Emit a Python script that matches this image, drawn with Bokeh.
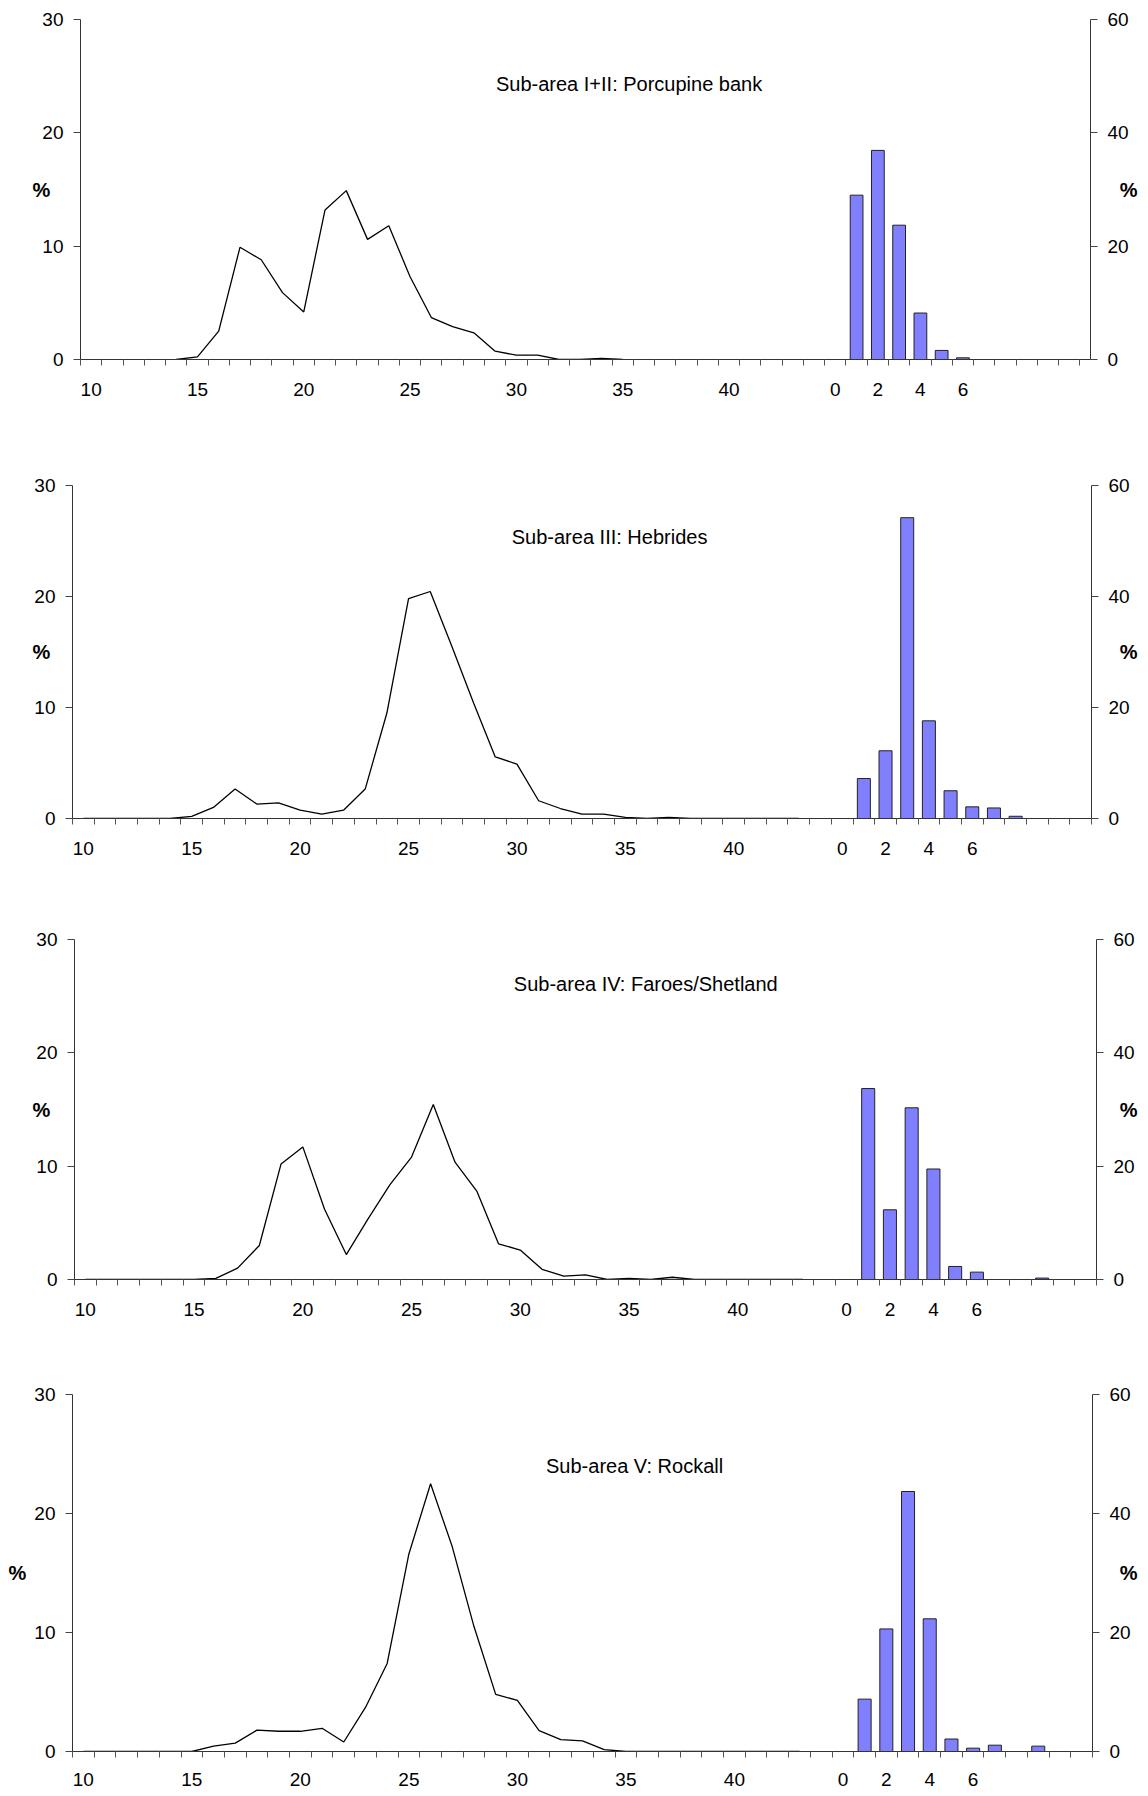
from bokeh.plotting import figure
from bokeh.models import LinearAxis, Range1d, FixedTicker, Label
from bokeh.layouts import column
from bokeh.embed import file_html
from bokeh.resources import INLINE

FONT = "Liberation Sans"

# length frequency (% per cm class, left axis)
porcupine_len = list(range(14, 36))
porcupine_pct = [0, 0.23, 2.5, 9.9, 8.8, 5.9, 4.2, 13.2, 14.9, 10.6, 11.8,
                 7.3, 3.7, 2.9, 2.35, 0.73, 0.38, 0.38, 0, 0, 0.1, 0]

hebrides_len = list(range(10, 44))
hebrides_pct = [0, 0, 0, 0, 0, 0.2, 1.0, 2.65, 1.3, 1.4, 0.75, 0.4, 0.75,
                2.65, 9.5, 19.8, 20.45, 15.5, 10.4, 5.55, 4.9, 1.6, 0.9, 0.4,
                0.4, 0.1, 0, 0.1, 0, 0, 0, 0, 0, 0]

faroes_len = list(range(10, 44))
faroes_pct = [0, 0, 0, 0, 0, 0, 0.1, 1.0, 3.0, 10.2, 11.7, 6.2, 2.2, 5.35,
              8.35, 10.8, 15.45, 10.35, 7.8, 3.15, 2.6, 0.9, 0.3, 0.4, 0,
              0.1, 0, 0.2, 0, 0, 0, 0, 0, 0]

rockall_len = list(range(10, 44))
rockall_pct = [0, 0, 0, 0, 0, 0, 0.45, 0.7, 1.8, 1.7, 1.7, 1.95, 0.8, 3.7,
               7.4, 16.6, 22.5, 17.2, 10.5, 4.8, 4.3, 1.75, 1.0, 0.9, 0.15,
               0, 0, 0, 0, 0, 0, 0, 0, 0]

# age composition (% per age, right axis)
porcupine_ages = [1, 2, 3, 4, 5, 6]
porcupine_age_pct = [29.0, 36.9, 23.7, 8.2, 1.6, 0.3]

hebrides_ages = [1, 2, 3, 4, 5, 6, 7, 8]
hebrides_age_pct = [7.2, 12.2, 54.2, 17.6, 5.0, 2.1, 1.9, 0.4]

faroes_ages = [1, 2, 3, 4, 5, 6, 7, 8, 9]
faroes_age_pct = [33.7, 12.3, 30.3, 19.5, 2.3, 1.3, 0, 0, 0.25]

rockall_ages = [1, 2, 3, 4, 5, 6, 7, 8, 9]
rockall_age_pct = [8.8, 20.6, 43.7, 22.3, 2.1, 0.56, 1.06, 0, 0.9]

titles = ["Sub-area I+II: Porcupine bank",
          "Sub-area  III: Hebrides",
          "Sub-area  IV: Faroes/Shetland",
          "Sub-area V: Rockall"]

length_ticks = [10, 15, 20, 25, 30, 35, 40]
age_ticks = [0, 2, 4, 6]

AGE_ZERO = 45  # age 0 sits in category 45 of the shared axis

# layout of each panel: figure height, borders, axis end, annotation places
panels = [
    dict(h=412, bl=80, br=46, bt=19, bb=53, x_end=57.0, std=17,
         tpos=(35.3, 24.3), lstd=-11, rstd=-12),
    dict(h=455, bl=72, br=48, bt=73, bb=49, x_end=56.5, std=17,
         tpos=(34.4, 25.4), lstd=-19, rstd=-13),
    dict(h=460, bl=74, br=43, bt=72, bb=48, x_end=56.5, std=17,
         tpos=(35.9, 26.1), lstd=-17, rstd=-18),
    dict(h=463, bl=72, br=42, bt=67, bb=39, x_end=56.5, std=15,
         tpos=(35.4, 24.0), lstd=5, rstd=-14),
]

series = [
    (porcupine_len, porcupine_pct, porcupine_ages, porcupine_age_pct),
    (hebrides_len, hebrides_pct, hebrides_ages, hebrides_age_pct),
    (faroes_len, faroes_pct, faroes_ages, faroes_age_pct),
    (rockall_len, rockall_pct, rockall_ages, rockall_age_pct),
]


def make_panel(title, lens, pct, ages, age_pct, lay):
    p = figure(width=1140, height=lay["h"],
               x_range=Range1d(9.5, lay["x_end"]), y_range=Range1d(0, 30),
               output_backend="svg", toolbar_location=None,
               min_border_left=lay["bl"], min_border_right=lay["br"],
               min_border_top=lay["bt"], min_border_bottom=lay["bb"])
    # each panel keeps its own frame, as in the original sheet
    p.frame_align = False
    p.outline_line_color = None
    p.xgrid.visible = False
    p.ygrid.visible = False
    p.extra_y_ranges = {"age": Range1d(0, 60)}

    # x axis: ticks between categories, labels on selected categories
    ticks = length_ticks + [AGE_ZERO + a for a in age_ticks]
    labels = [str(t) for t in length_ticks] + [str(a) for a in age_ticks]
    bounds = []
    b = 9.5
    while b <= lay["x_end"] + 1e-6:
        bounds.append(b)
        b += 1
    xa = p.xaxis[0]
    xa.ticker = FixedTicker(ticks=ticks, minor_ticks=bounds)
    xa.major_label_overrides = dict(zip(ticks, labels))
    xa.major_tick_out = 0
    xa.major_tick_in = 0
    xa.minor_tick_out = 6
    xa.minor_tick_in = 0
    xa.major_label_standoff = lay["std"]

    ya = p.yaxis[0]
    ya.ticker = FixedTicker(ticks=[0, 10, 20, 30], minor_ticks=[])
    ya.axis_label_standoff = lay["lstd"]

    ra = LinearAxis(y_range_name="age",
                    ticker=FixedTicker(ticks=[0, 20, 40, 60], minor_ticks=[]))
    ra.axis_label_standoff = lay["rstd"]
    p.add_layout(ra, "right")

    for ax in (xa, ya, ra):
        ax.axis_line_color = "#333333"
        ax.major_tick_line_color = "#444444"
        ax.minor_tick_line_color = "#555555"
        ax.major_label_text_font = FONT
        ax.major_label_text_font_size = "19px"
        ax.major_label_text_color = "#000000"
    for ax in (ya, ra):
        ax.major_tick_out = 7
        ax.major_tick_in = 0
        ax.minor_tick_out = 0
        ax.minor_tick_in = 0
        ax.major_label_standoff = 10
        ax.axis_label = "%"
        ax.axis_label_orientation = "horizontal"
        ax.axis_label_text_font = FONT
        ax.axis_label_text_font_size = "20px"
        ax.axis_label_text_font_style = "bold"
        ax.axis_label_text_color = "#000000"

    # age bars on the right-hand scale
    bx = [AGE_ZERO + a for a, v in zip(ages, age_pct) if v > 0]
    bt = [v for v in age_pct if v > 0]
    p.vbar(x=bx, top=bt, bottom=0, width=0.6, y_range_name="age",
           fill_color="#8080FF", line_color="#222222", line_width=1)

    # length distribution line on the left-hand scale
    p.line(lens, pct, line_color="#000000", line_width=1.3)

    tx, ty = lay["tpos"]
    p.add_layout(Label(x=tx, y=ty, text=title, text_font=FONT,
                       text_font_size="20px", text_align="center",
                       text_baseline="middle", text_color="#000000"))
    return p


figs = [make_panel(t, *s, lay) for t, s, lay in zip(titles, series, panels)]
p = column(*figs)

open("out.html", "w").write(file_html(p, INLINE))
